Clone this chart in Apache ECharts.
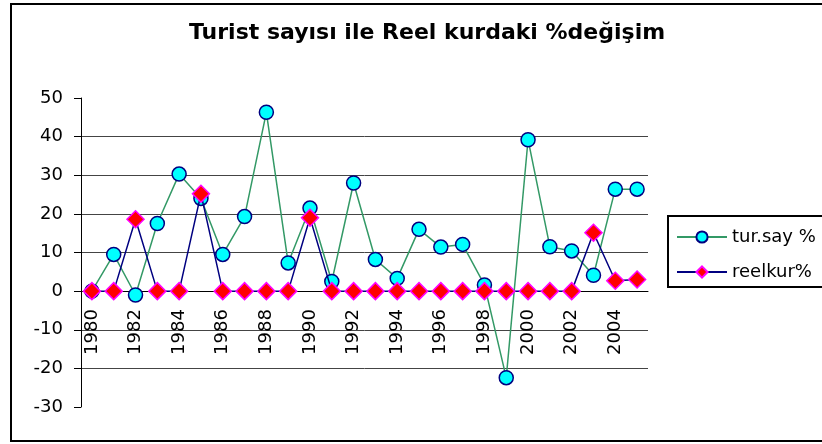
<!DOCTYPE html>
<html>
<head>
<meta charset="utf-8">
<script src="https://cdn.jsdelivr.net/npm/echarts@6/dist/echarts.min.js"></script>
<style>
  html, body { margin: 0; padding: 0; background: #fff; }
  #chart { width: 822px; height: 444px; }
</style>
</head>
<body>
<div id="chart"></div>
<script>
const years = ["1980","1981","1982","1983","1984","1985","1986","1987","1988","1989",
  "1990","1991","1992","1993","1994","1995","1996","1997","1998","1999",
  "2000","2001","2002","2003","2004","2005"];
const turSay = [0, 9.5, -1, 17.5, 30.3, 24, 9.5, 19.3, 46.3, 7.3,
  21.5, 2.5, 28, 8.2, 3.3, 16, 11.4, 12.1, 1.6, -22.4,
  39.2, 11.5, 10.4, 4.1, 26.4, 26.4];
const reelKur = [0, 0, 18.6, 0, 0, 25.2, 0, 0, 0, 0,
  19, 0, 0, 0, 0, 0, 0, 0, 0, 0,
  0, 0, 0, 15.1, 2.7, 3];
const yMin = -30, yMax = 50, yStep = 10;

const font = "'DejaVu Sans', Verdana, sans-serif";
const gridTop = 98, gridBottom = 37, H = 444;
// labels sit on the zero line, like the axis line itself
const plotH = H - gridTop - gridBottom;
const zeroOffset = -plotH * (0 - yMin) / (yMax - yMin);

let myChart = echarts.init(document.getElementById("chart"));
myChart.setOption({
  animation: false,
  backgroundColor: "#fff",
  textStyle: { fontFamily: font },
  title: {
    text: "Turist sayısı ile Reel kurdaki %değişim",
    left: 184,
    top: 17,
    textStyle: { fontSize: 22, fontWeight: "bold", color: "#000", fontFamily: font }
  },
  graphic: [
    {
      type: "rect",
      shape: { x: 11, y: 4, width: 840, height: 437 },
      style: { fill: "none", stroke: "#000", lineWidth: 2 },
      z: 0
    }
  ],
  legend: {
    orient: "vertical",
    left: 668,
    top: 216,
    padding: [12, 30, 6, 8],
    itemWidth: 50,
    itemHeight: 14,
    itemGap: 17,
    borderColor: "#000",
    borderWidth: 2,
    textStyle: { fontSize: 18, color: "#000", fontFamily: font },
    data: ["tur.say %", "reelkur%"]
  },
  grid: {
    left: 81,
    right: 174,
    top: gridTop,
    bottom: gridBottom,
    containLabel: false,
    outerBoundsMode: "none"
  },
  xAxis: [
    {
      type: "category",
      data: years,
      axisLine: { onZero: true, lineStyle: { color: "#000", width: 1 } },
      axisTick: { interval: 0, length: 5, lineStyle: { color: "#000" } },
      axisLabel: { show: false },
      splitLine: { show: false }
    },
    {
      type: "category",
      data: years,
      position: "bottom",
      offset: zeroOffset,
      axisLine: { show: false, onZero: false },
      axisTick: { show: false },
      axisLabel: {
        interval: 1,
        rotate: 90,
        margin: 18,
        fontSize: 18,
        color: "#000",
        fontFamily: font
      },
      splitLine: { show: false }
    }
  ],
  yAxis: {
    type: "value",
    min: yMin,
    max: yMax,
    interval: yStep,
    axisLine: { show: true, lineStyle: { color: "#000", width: 1 } },
    axisTick: { show: true, length: 7, lineStyle: { color: "#000" } },
    axisLabel: { margin: 18, fontSize: 18, color: "#000", fontFamily: font },
    splitLine: {
      show: true,
      lineStyle: {
        color: ["transparent", "#444", "#444", "#444", "#444", "#444", "#444", "#444", "transparent"],
        width: 1
      }
    }
  },
  series: [
    {
      name: "tur.say %",
      type: "line",
      data: turSay,
      symbol: "circle",
      symbolSize: 14,
      showAllSymbol: true,
      lineStyle: { color: "#339966", width: 1.5 },
      itemStyle: { color: "#00ffff", borderColor: "#000080", borderWidth: 1.5 },
      z: 2
    },
    {
      name: "reelkur%",
      type: "line",
      data: reelKur,
      symbol: "diamond",
      symbolSize: 17,
      showAllSymbol: true,
      lineStyle: { color: "#000080", width: 1.5 },
      itemStyle: { color: "#ff0000", borderColor: "#ff00ff", borderWidth: 1.5 },
      z: 3
    }
  ]
});
</script>
</body>
</html>
